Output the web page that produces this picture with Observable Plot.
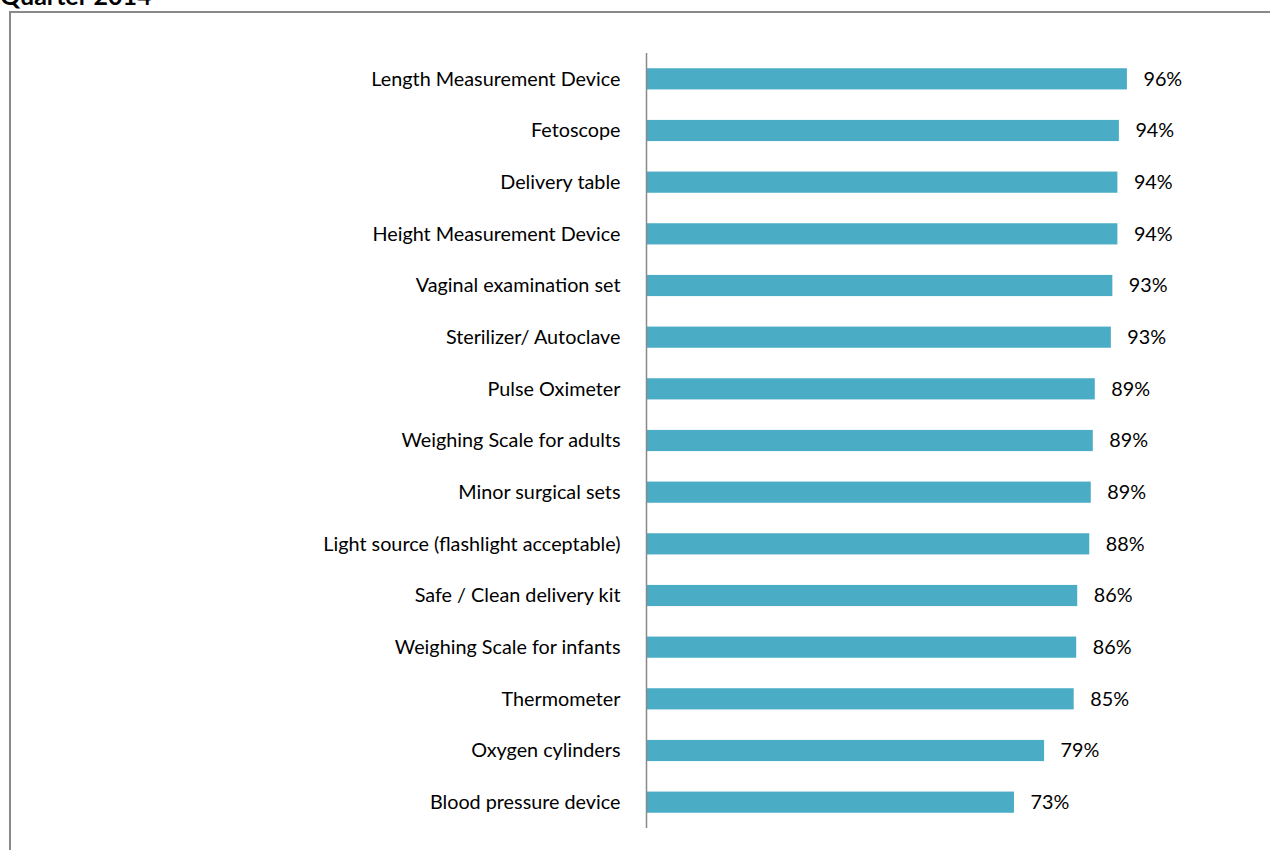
<!DOCTYPE html>
<html>
<head>
<meta charset="utf-8">
<script src="https://cdn.jsdelivr.net/npm/d3@7"></script>
<script src="https://cdn.jsdelivr.net/npm/@observablehq/plot@0.6"></script>
<style>
  html, body { margin: 0; padding: 0; background: #fff; overflow: hidden; }
  #wrap { position: relative; width: 1270px; height: 850px; overflow: hidden; font-family: Lato, "Open Sans", sans-serif; }
  #title { position: absolute; left: 0; top: -17px; font-weight: bold; font-size: 25px; line-height: 25px; color: #000; }
  #frame { position: absolute; left: 9px; top: 11px; width: 1400px; height: 1000px; border: 2px solid #898989; box-sizing: border-box; }
  #chart { position: absolute; left: 0; top: 0; }
</style>
</head>
<body>
<div id="wrap">
  <div id="title">Quarter 2014</div>
  <div id="frame"></div>
  <div id="chart"></div>
</div>
<script>
const categories = [
  "Length Measurement Device",
  "Fetoscope",
  "Delivery table",
  "Height Measurement Device",
  "Vaginal examination set",
  "Sterilizer/ Autoclave",
  "Pulse Oximeter",
  "Weighing Scale for adults",
  "Minor surgical sets",
  "Light source (flashlight acceptable)",
  "Safe / Clean delivery kit",
  "Weighing Scale for infants",
  "Thermometer",
  "Oxygen cylinders",
  "Blood pressure device"
];
const values = [95.8, 94.2, 93.9, 93.9, 92.9, 92.6, 89.4, 89.0, 88.6, 88.3, 85.9, 85.7, 85.2, 79.3, 73.3];

const data = categories.map((c, i) => ({category: c, value: values[i], label: Math.round(values[i]) + "%"}));

const chart = Plot.plot({
  width: 1270,
  height: 850,
  marginTop: 53,
  marginBottom: 22,
  marginLeft: 646,
  marginRight: 122,
  style: {fontFamily: "Lato, 'Open Sans', sans-serif", fontSize: "19.8px", color: "#000", background: "transparent"},
  x: {domain: [0, 100], axis: null},
  y: {domain: categories, paddingInner: 0.59, paddingOuter: 0.295, round: false, label: null, tickSize: 0, tickPadding: 26},
  marks: [
    Plot.barX(data, {x: "value", y: "category", fill: "#4BACC6"}),
    Plot.ruleX([0], {stroke: "#898989", strokeWidth: 1.5}),
    Plot.text(data, {x: "value", y: "category", text: "label", textAnchor: "start", dx: 16, fontSize: 19.8, fill: "#000"})
  ]
});
document.getElementById("chart").appendChild(chart);
</script>
</body>
</html>
